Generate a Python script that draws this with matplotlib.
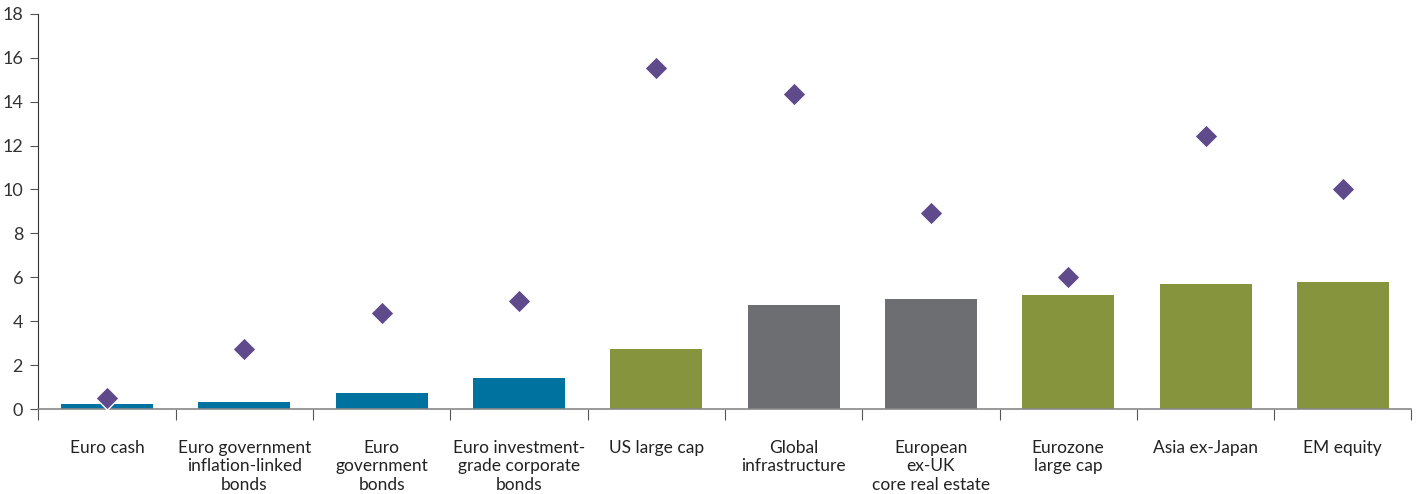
import matplotlib
matplotlib.use('Agg')
from matplotlib import pyplot as plt
import numpy as np

plt.rcParams['font.family'] = ['Lato', 'DejaVu Sans']

categories = ['Euro cash', 'Euro government\ninflation-linked\nbonds', 'Euro\ngovernment\nbonds',
              'Euro investment-\ngrade corporate\nbonds', 'US large cap', 'Global\ninfrastructure',
              'European\nex-UK\ncore real estate', 'Eurozone\nlarge cap', 'Asia ex-Japan', 'EM equity']
bar_values = [0.23, 0.32, 0.73, 1.41, 2.73, 4.74, 5.01, 5.2, 5.7, 5.79]
diamond_values = [0.5, 2.73, 4.38, 4.92, 15.54, 14.36, 8.93, 6.02, 12.44, 10.03]
bar_colors = ['#0072a0'] * 4 + ['#86943d'] + ['#6d6e71'] * 2 + ['#86943d'] * 3

fig, ax = plt.subplots(figsize=(14.2, 4.94), dpi=100)
fig.subplots_adjust(left=0.027, right=0.994, top=0.972, bottom=0.172)

x = np.arange(len(categories))
ax.bar(x, bar_values, width=0.67, color=bar_colors, zorder=2)
ax.scatter(x, diamond_values, marker='D', s=140, color='#5f4b8b', edgecolor='white',
           linewidth=1, zorder=3)

ax.set_xlim(-0.5, len(categories) - 0.5)
ax.set_ylim(0, 18)
ax.set_yticks(range(0, 19, 2))

# ticks between categories
ax.set_xticks(np.arange(-0.5, len(categories), 1))
ax.set_xticklabels([])
ax.set_xticks(x, minor=True)
ax.set_xticklabels(categories, minor=True, fontsize=12.5, color='#222222', linespacing=1.2,
                   va='top')
ax.tick_params(axis='x', which='minor', length=0, pad=22)
ax.tick_params(axis='x', which='major', length=8, color='#555555', width=0.8, direction='out')
ax.tick_params(axis='y', length=6, color='#555555', width=0.8, labelsize=13, labelcolor='#333333', pad=5)

for s in ['top', 'right']:
    ax.spines[s].set_visible(False)
ax.spines['left'].set_color('#333333')
ax.spines['left'].set_linewidth(0.8)
ax.spines['bottom'].set_color('#888888')
ax.spines['bottom'].set_linewidth(1.2)

plt.savefig('out.png', dpi=100)
